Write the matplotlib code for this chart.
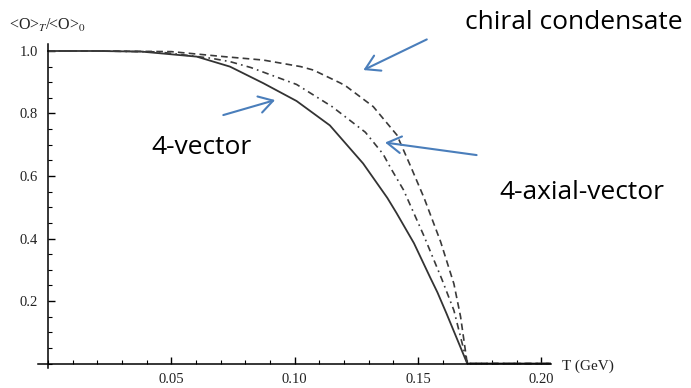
#!/usr/bin/env python3
# -*- coding: utf-8 -*-

import matplotlib
matplotlib.use("Agg")
import matplotlib.pyplot as plt
from matplotlib.ticker import MultipleLocator, FixedLocator

T_vec = [0, 0.02, 0.038, 0.0603, 0.0738, 0.0873, 0.1008, 0.1143, 0.1278,
         0.1376, 0.1413, 0.1484, 0.155, 0.1579, 0.1616, 0.170, 0.2038]
v_vec = [1, 1, 0.998, 0.982, 0.950, 0.897, 0.840, 0.762, 0.640,
         0.530, 0.482, 0.385, 0.275, 0.228, 0.160, 0, 0]

T_axial = [0, 0.02, 0.045, 0.066, 0.0738, 0.0823, 0.1008, 0.1152, 0.1287,
           0.1359, 0.139, 0.1442, 0.1523, 0.1597, 0.1646, 0.170, 0.2038]
v_axial = [1, 1, 0.997, 0.977, 0.966, 0.947, 0.893, 0.822, 0.740,
           0.670, 0.625, 0.555, 0.411, 0.270, 0.170, 0, 0]

T_chiral = [0, 0.02, 0.05, 0.0713, 0.0873, 0.1025, 0.1076, 0.1187, 0.1211,
            0.1319, 0.1415, 0.147, 0.1525, 0.1592, 0.1646, 0.1673, 0.170, 0.2038]
v_chiral = [1, 1, 0.998, 0.982, 0.971, 0.950, 0.939, 0.897, 0.886,
            0.822, 0.731, 0.632, 0.530, 0.390, 0.255, 0.150, 0, 0]

x_ticks = [0.05, 0.10, 0.15, 0.20]
x_labels = ["0.05", "0.10", "0.15", "0.20"]
y_ticks = [0.2, 0.4, 0.6, 0.8, 1.0]
y_labels = ["0.2", "0.4", "0.6", "0.8", "1.0"]

plt.rcParams['mathtext.fontset'] = 'stix'

fig = plt.figure(figsize=(6.91, 3.88), dpi=100)
ax = fig.add_axes([0.0551, 0.051, 0.7417, 0.8353])
ax.set_xlim(-0.004, 0.2038)
ax.set_ylim(-0.015, 1.022)

ax.plot(T_vec, v_vec, color='#333333', lw=1.3, ls='-', solid_joinstyle='round')
ax.plot(T_axial, v_axial, color='#3a3a3a', lw=1.2, ls=(0, (4, 2.5, 1, 2.5)))
ax.plot(T_chiral, v_chiral, color='#3a3a3a', lw=1.2, ls=(0, (4, 2.5)))

for s in ['top', 'right']:
    ax.spines[s].set_visible(False)
ax.spines['left'].set_position(('data', 0))
ax.spines['bottom'].set_position(('data', 0))
ax.spines['left'].set_linewidth(1.1)
ax.spines['bottom'].set_linewidth(1.1)

ax.xaxis.set_major_locator(FixedLocator(x_ticks))
ax.set_xticklabels(x_labels)
ax.xaxis.set_minor_locator(MultipleLocator(0.01))
ax.yaxis.set_major_locator(FixedLocator(y_ticks))
ax.set_yticklabels(y_labels)
ax.yaxis.set_minor_locator(MultipleLocator(0.05))
ax.tick_params(which='major', direction='in', length=5, width=1, labelsize=10.5,
               pad=7)
ax.tick_params(which='minor', direction='in', length=3, width=0.8)
for lab in ax.get_xticklabels() + ax.get_yticklabels():
    lab.set_family('Liberation Serif')
    lab.set_color('#222222')

fig.text(9 / 691, 1 - 25 / 388, r'<O>$_{T}$/<O>$_{0}$', family='Liberation Serif',
         fontsize=11.5, va='center', ha='left', color='#222222')
fig.text(562 / 691, 1 - 366 / 388, 'T (GeV)', family='Liberation Serif',
         fontsize=11, va='center', ha='left', color='#222222')

# labels and arrows
blue = '#4a7ebb'
aprops = dict(arrowstyle='->,head_length=0.5,head_width=0.3', color=blue,
              lw=1.5, mutation_scale=20, shrinkA=0, shrinkB=0)
ax.annotate('', xy=(0.1279, 0.939), xytext=(0.1536, 1.037), arrowprops=aprops,
            annotation_clip=False)
ax.annotate('', xy=(0.0921, 0.843), xytext=(0.0711, 0.795), arrowprops=aprops,
            annotation_clip=False)
ax.annotate('', xy=(0.1367, 0.707), xytext=(0.1738, 0.667), arrowprops=aprops,
            annotation_clip=False)

tprops = dict(family='Open Sans', fontsize=19, ha='center', va='center',
              clip_on=False, color='black')
ax.text(0.2133, 1.09, 'chiral condensate', **tprops)
ax.text(0.0622, 0.69, '4-vector', **tprops)
ax.text(0.2165, 0.548, '4-axial-vector', **tprops)

fig.savefig('out.png', dpi=100)
